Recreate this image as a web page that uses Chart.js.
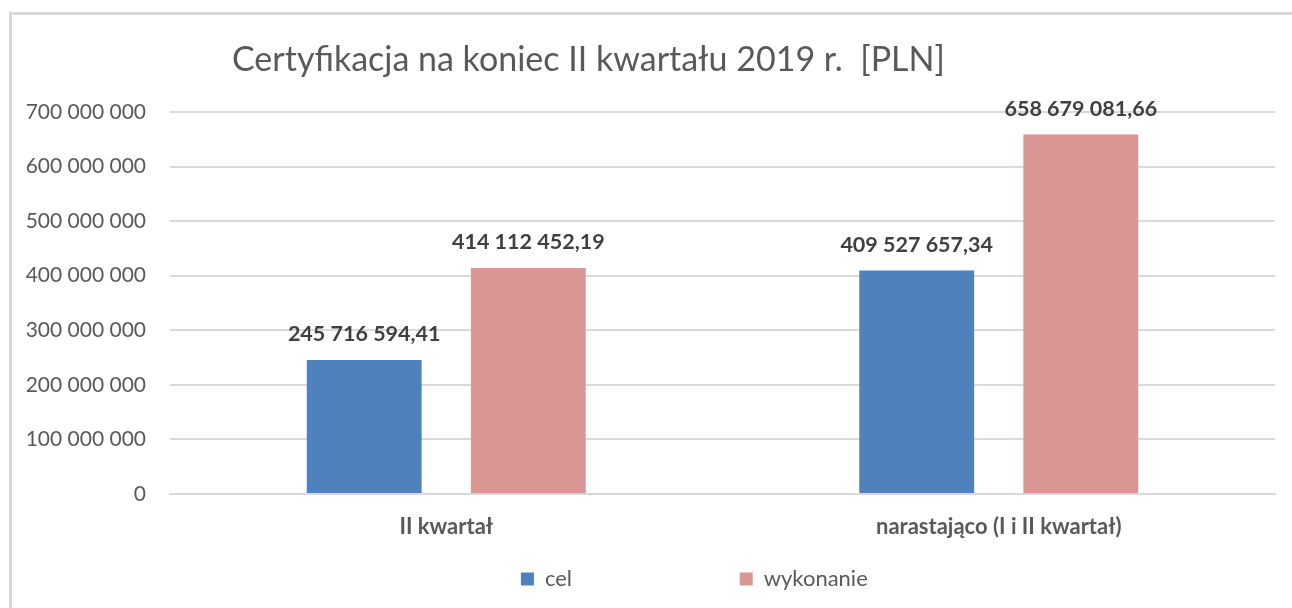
<!DOCTYPE html>
<html>
<head>
<meta charset="utf-8">
<script src="https://cdn.jsdelivr.net/npm/chart.js@4.4.1/dist/chart.umd.min.js"></script>
<style>
    html, body { margin: 0; padding: 0; background: #fff; }
    #ramka {
        position: absolute; left: 9px; top: 12px;
        width: 1283px; height: 596px;
        border-left: 3px solid #d9d9d9; border-top: 3px solid #d9d9d9;
    }
    #wykres { display: block; }
</style>
</head>
<body>
<div id="ramka"><canvas id="wykres" width="1280" height="593"></canvas></div>
<script>
var tytul = 'Certyfikacja na koniec II kwartału 2019 r.  [PLN]'
var kategorie = ['II kwartał', 'narastająco (I i II kwartał)']
var serie = ['cel', 'wykonanie']
var wartosciCel = [245716594.41, 409527657.34]
var wartosciWykonanie = [414112452.19, 658679081.66]
var kolory = ['#4F81BD', '#D99694']
var osY = { min: 0, max: 700000000, krok: 100000000 }

function formatujLiczbe(v, miejsca) {
    var s = v.toFixed(miejsca).split('.')
    var calosc = s[0].replace(/\B(?=(\d{3})+(?!\d))/g, ' ')
    return s.length > 1 ? calosc + ',' + s[1] : calosc
}

// tytul rysowany od lewej, jak w oryginale
const tytulPlugin = {
    id: 'tytulPlugin',
    afterDraw(chart) {
        const ctx = chart.ctx
        ctx.save()
        ctx.font = '34px Lato'
        ctx.fillStyle = '#595959'
        ctx.textAlign = 'left'
        ctx.textBaseline = 'alphabetic'
        ctx.fillText(tytul, 220, 56)
        ctx.restore()
    }
}

// etykiety z wartosciami nad slupkami
const etykietyPlugin = {
    id: 'etykietyPlugin',
    afterDatasetsDraw(chart) {
        const ctx = chart.ctx
        ctx.save()
        ctx.font = 'bold 21.5px Lato'
        ctx.fillStyle = '#404040'
        ctx.textAlign = 'center'
        ctx.textBaseline = 'alphabetic'
        chart.data.datasets.forEach(function (ds, i) {
            chart.getDatasetMeta(i).data.forEach(function (bar, j) {
                ctx.fillText(formatujLiczbe(ds.data[j], 2), bar.x, bar.y - 19)
            })
        })
        ctx.restore()
    }
}

const dane = {
    labels: kategorie,
    datasets: [{
        label: serie[0],
        backgroundColor: kolory[0],
        data: wartosciCel,
    }, {
        label: serie[1],
        backgroundColor: kolory[1],
        data: wartosciWykonanie,
    }]
}

// odstepy w legendzie (Chart.js nie ma osobnej opcji na rozstaw)
const odstepy = [' '.repeat(28), ' '.repeat(10)]

const config = {
    type: 'bar',
    data: dane,
    options: {
        responsive: false,
        animation: { duration: 0 },
        categoryPercentage: 0.594,
        barPercentage: 0.70,
        layout: {
            padding: { top: 97, right: 17, bottom: 8, left: 0 }
        },
        plugins: {
            title: { display: false },
            tooltip: { enabled: false },
            legend: {
                position: 'bottom',
                fullSize: false,
                labels: {
                    boxWidth: 13,
                    boxHeight: 13,
                    padding: 10,
                    color: '#595959',
                    font: { family: 'Lato', size: 22 },
                    generateLabels: function (chart) {
                        return chart.data.datasets.map(function (ds, i) {
                            return {
                                text: ds.label + odstepy[i],
                                fillStyle: ds.backgroundColor,
                                strokeStyle: ds.backgroundColor,
                                lineWidth: 0,
                                fontColor: '#595959',
                                datasetIndex: i
                            }
                        })
                    }
                }
            }
        },
        scales: {
            x: {
                grid: { display: false },
                border: { color: '#d9d9d9', width: 2 },
                ticks: {
                    padding: 12,
                    color: '#595959',
                    font: { family: 'Lato', size: 22, weight: 'bold' }
                },
                afterFit: function (scale) { scale.height = 64 }
            },
            y: {
                min: osY.min,
                max: osY.max,
                grid: { color: '#d9d9d9', lineWidth: 2, drawTicks: false },
                border: { display: false },
                ticks: {
                    stepSize: osY.krok,
                    padding: 24,
                    color: '#595959',
                    font: { family: 'Lato', size: 21 },
                    callback: function (v) { return formatujLiczbe(v, 0) }
                },
                afterFit: function (scale) { scale.width = 158 }
            }
        }
    },
    plugins: [tytulPlugin, etykietyPlugin]
}

var wykres = new Chart(document.getElementById('wykres'), config)
</script>
</body>
</html>
